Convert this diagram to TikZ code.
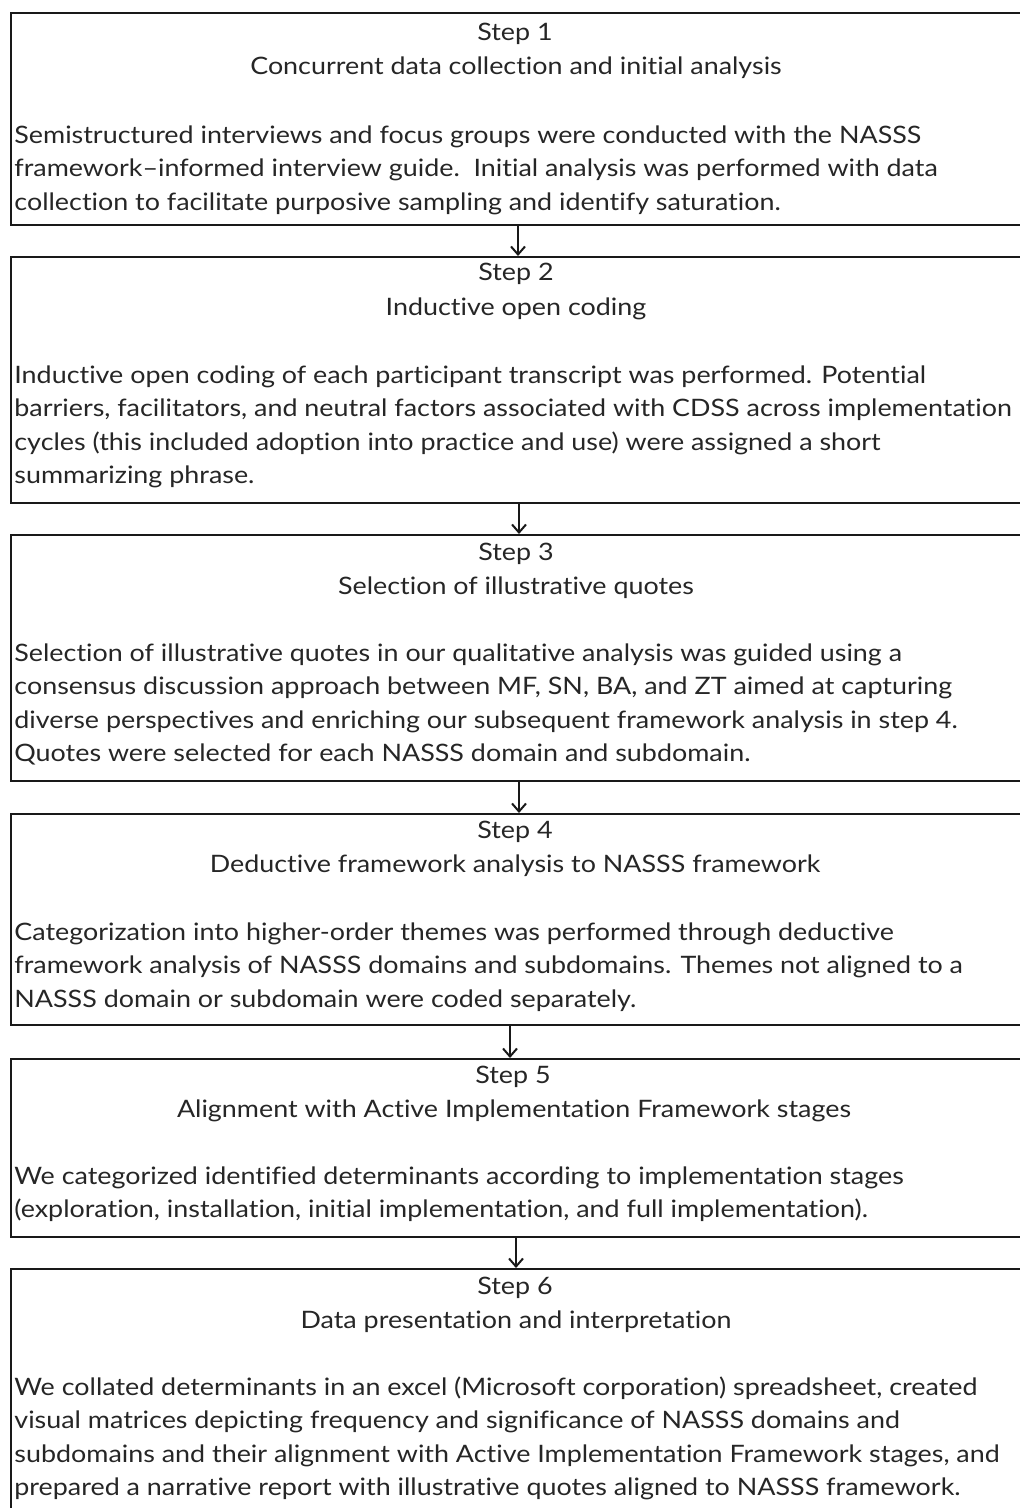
\documentclass[tikz,border=0pt]{standalone}
\usepackage{fontspec}
\setmainfont[Ligatures=NoCommon, FakeStretch=1.12]{Lato}
\usetikzlibrary{arrows.meta}
\begin{document}
\begin{tikzpicture}[x=0.5pt,y=-0.5pt,
  box/.style={draw=black!90, line width=1pt, rectangle, inner sep=0pt,
    anchor=north west, minimum width=507pt},
  txt/.style={text=black!85, inner sep=0pt, font=\fontsize{12}{16.75}\selectfont},
  steplabel/.style={txt, anchor=base},
  body/.style={txt, anchor=north west, align=left},
  arr/.style={draw=black!90, line width=1pt, -{Straight Barb[length=4pt,width=7pt]}}
]
\useasboundingbox (0,0) rectangle (1019,1508);
\fill[white] (0,0) rectangle (1019,1508);

% boxes
\node[box, minimum height=106pt] (box1) at (10,12) {};
\node[box, minimum height=123pt] (box2) at (10,256) {};
\node[box, minimum height=123pt] (box3) at (10,534) {};
\node[box, minimum height=105.5pt] (box4) at (10,813) {};
\node[box, minimum height=89pt] (box5) at (10,1058) {};
\node[box, minimum height=126pt] (box6) at (10,1268) {};

% arrows
\draw[arr] (box1.south) -- (box2.north);
\draw[arr] ([xshift=0.5pt]box2.south) -- ([xshift=0.5pt]box3.north);
\draw[arr] ([xshift=0.5pt]box3.south) -- ([xshift=0.5pt]box4.north);
\draw[arr] ([xshift=-4pt]box4.south) -- ([xshift=-4pt]box5.north);
\draw[arr] ([xshift=-1pt]box5.south) -- ([xshift=-1pt]box6.north);

% Step 1
\node[steplabel] (s1) at (515,41) {Step 1};
\node[steplabel] (t1) at (516,75) {Concurrent data collection and initial analysis};
\node[body] (b1) at (14,119.5) {\strut Semistructured interviews and focus groups were conducted with the NASSS\\
framework–informed interview guide.\ \ Initial analysis was performed with data\\
collection to facilitate purposive sampling and identify saturation.};

% Step 2
\node[steplabel] (s2) at (516,281) {Step 2};
\node[steplabel] (t2) at (516,315) {Inductive open coding};
\node[body] (b2) at (14,359.5) {\strut Inductive open coding of each participant transcript was performed. Potential\\
barriers, facilitators, and neutral factors associated with CDSS across implementation\\
cycles (this included adoption into practice and use) were assigned a short\\
summarizing phrase.};

% Step 3
\node[steplabel] (s3) at (516,560) {Step 3};
\node[steplabel] (t3) at (516,594) {Selection of illustrative quotes};
\node[body] (b3) at (14,637.5) {\strut Selection of illustrative quotes in our qualitative analysis was guided using a\\
consensus discussion approach between MF, SN, BA, and ZT aimed at capturing\\
diverse perspectives and enriching our subsequent framework analysis in step 4.\\
Quotes were selected for each NASSS domain and subdomain.};

% Step 4
\node[steplabel] (s4) at (515,838) {Step 4};
\node[steplabel] (t4) at (515,872) {Deductive framework analysis to NASSS framework};
\node[body] (b4) at (14,916.5) {\strut Categorization into higher-order themes was performed through deductive\\
framework analysis of NASSS domains and subdomains. Themes not aligned to a\\
NASSS domain or subdomain were coded separately.};

% Step 5
\node[steplabel] (s5) at (513,1083) {Step 5};
\node[steplabel] (t5) at (514,1117) {Alignment with Active Implementation Framework stages};
\node[body] (b5) at (14,1160.5) {\strut We categorized identified determinants according to implementation stages\\
(exploration, installation, initial implementation, and full implementation).};

% Step 6
\node[steplabel] (s6) at (515,1294) {Step 6};
\node[steplabel] (t6) at (516,1328) {Data presentation and interpretation};
\node[body] (b6) at (14,1371.5) {\strut We collated determinants in an excel (Microsoft corporation) spreadsheet, created\\
visual matrices depicting frequency and significance of NASSS domains and\\
subdomains and their alignment with Active Implementation Framework stages, and\\
prepared a narrative report with illustrative quotes aligned to NASSS framework.};
\end{tikzpicture}
\end{document}
